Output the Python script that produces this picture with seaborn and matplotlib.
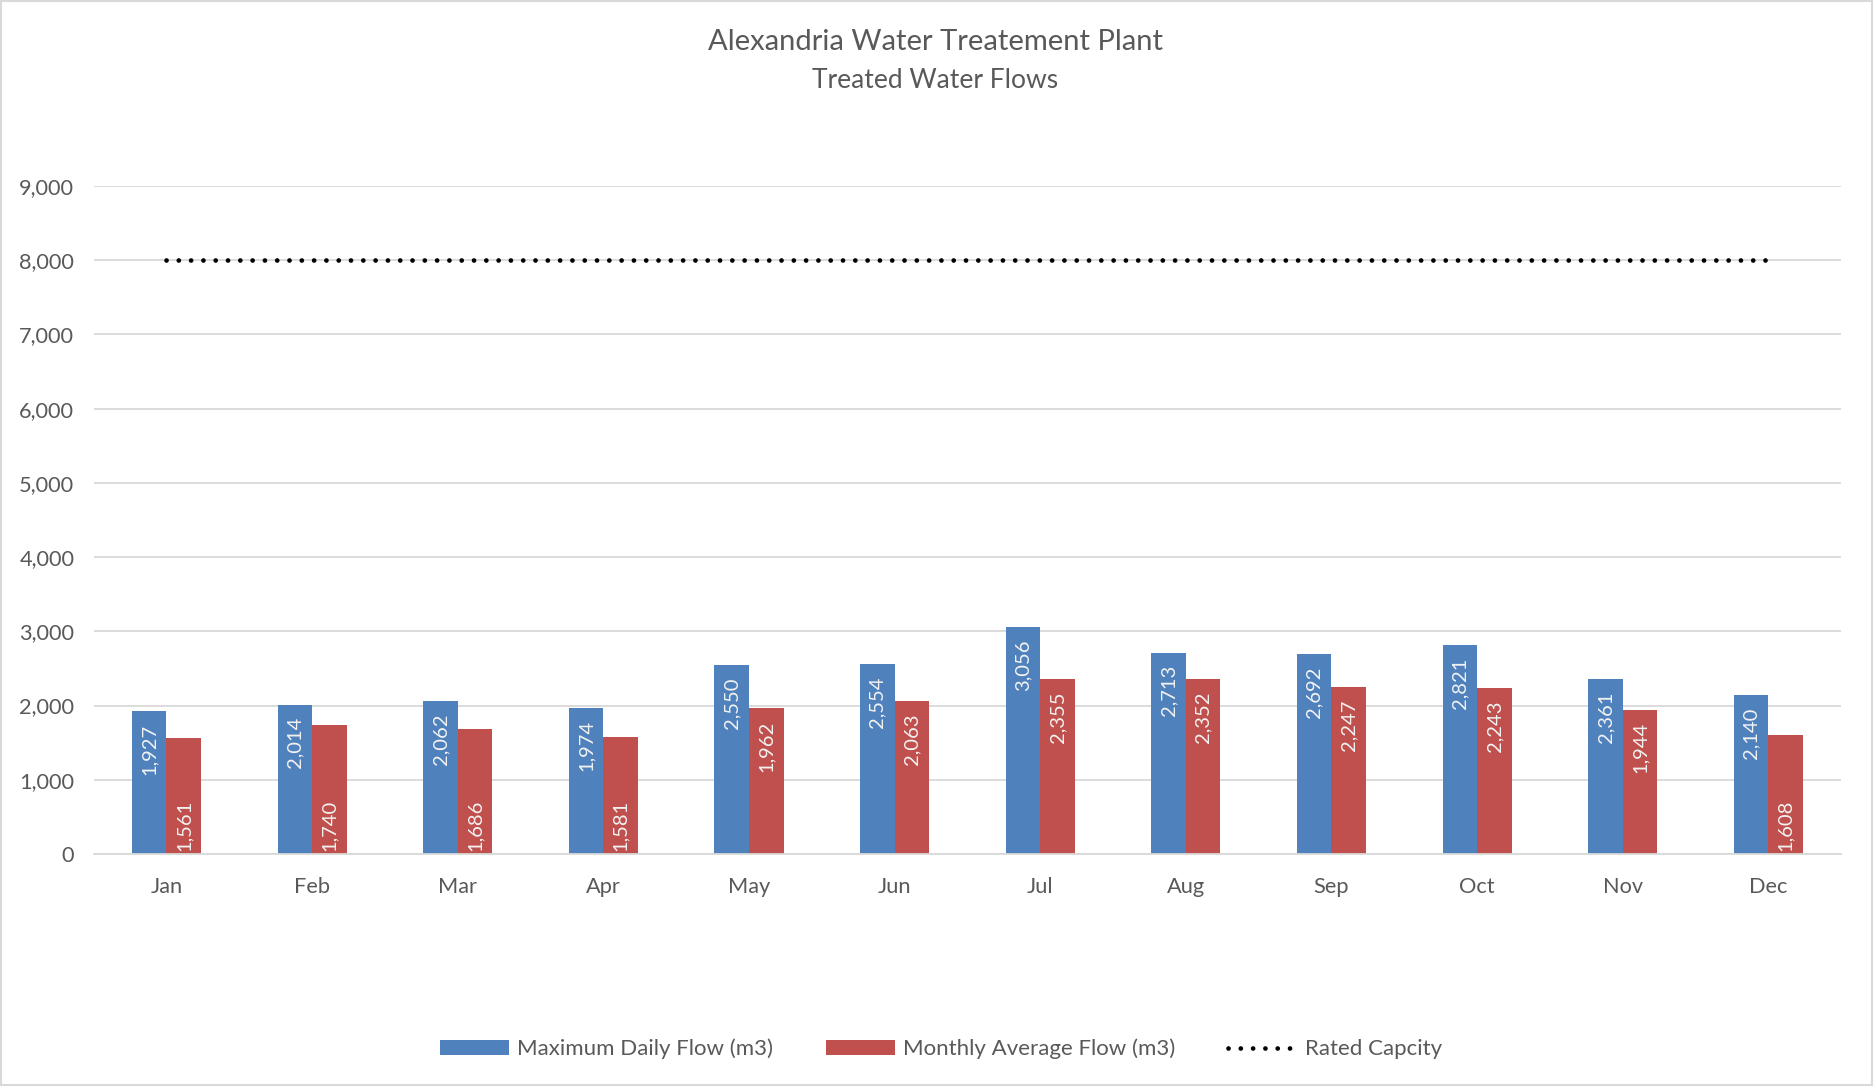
import numpy as np
import pandas as pd
import matplotlib
matplotlib.use('Agg')
import matplotlib.pyplot as plt
from matplotlib.patches import Rectangle
import seaborn as sns

# data
months = ['Jan', 'Feb', 'Mar', 'Apr', 'May', 'Jun',
          'Jul', 'Aug', 'Sep', 'Oct', 'Nov', 'Dec']
max_daily = [1927, 2014, 2062, 1974, 2550, 2554, 3056, 2713, 2692, 2821, 2361, 2140]
monthly_avg = [1561, 1740, 1686, 1581, 1962, 2063, 2355, 2352, 2247, 2243, 1944, 1608]
rated_capacity = [8000] * 12

series_names = ['Maximum Daily Flow (m3)', 'Monthly Average Flow (m3)']
line_name = 'Rated Capcity'
yticks = [0, 1000, 2000, 3000, 4000, 5000, 6000, 7000, 8000, 9000]

# red labels that sit at the bar base instead of the top
base_label_months = ['Jan', 'Feb', 'Mar', 'Apr', 'Dec']

df = pd.DataFrame({
    'month': months * 2,
    'flow': max_daily + monthly_avg,
    'series': [series_names[0]] * 12 + [series_names[1]] * 12,
})

sns.set_style('white')
plt.rcParams['font.family'] = ['Lato', 'DejaVu Sans']
text_col = '#595959'
grid_col = '#D9D9D9'

fig = plt.figure(figsize=(18.73, 10.86), dpi=100)
ax = fig.add_axes([0.050, 0.2136, 0.933, 0.6151])

sns.barplot(data=df, x='month', y='flow', hue='series', order=months,
            hue_order=series_names, palette=['#4F81BD', '#C0504D'],
            width=0.475, gap=0, saturation=1, ax=ax, legend=True,
            edgecolor='none')

ax.plot(np.arange(len(months)), rated_capacity, color='black', lw=3.4,
        linestyle=(0, (0.01, 2.5947)), dash_capstyle='round', label=line_name)

# data labels
for ci, cont in enumerate(ax.containers):
    for mi, bar in enumerate(cont):
        h = bar.get_height()
        x = bar.get_x() + bar.get_width() / 2
        txt = f'{int(round(h)):,}'
        if ci == 1 and months[mi] in base_label_months:
            ax.annotate(txt, (x, 0), xytext=(0, 2), textcoords='offset points',
                        rotation=90, ha='center', va='bottom', color='#F2F2F2',
                        fontsize=14.5)
        else:
            ax.annotate(txt, (x, h), xytext=(0, -9), textcoords='offset points',
                        rotation=90, ha='center', va='top', color='#F2F2F2',
                        fontsize=14.5)

ax.set_xlim(-0.5, len(months) - 0.5)
ax.set_ylim(0, 9000)
ax.set_yticks(yticks)
ax.set_yticklabels([f'{v:,}' for v in yticks])
ax.yaxis.grid(True, color=grid_col, lw=1.3)
ax.set_axisbelow(True)
for s in ['left', 'right', 'top']:
    ax.spines[s].set_visible(False)
ax.spines['bottom'].set_color(grid_col)
ax.spines['bottom'].set_linewidth(1.3)
ax.tick_params(axis='both', length=0, labelsize=15.7, colors=text_col)
ax.tick_params(axis='y', pad=14)
ax.tick_params(axis='x', pad=16.5)
ax.set_xlabel('')
ax.set_ylabel('')

handles, labels = ax.get_legend_handles_labels()
ax.get_legend().remove()
order = [labels.index(series_names[0]), labels.index(series_names[1]), labels.index(line_name)]
leg = fig.legend([handles[i] for i in order], [labels[i] for i in order],
                 loc='center', bbox_to_anchor=(0.5025, 0.034), ncol=3,
                 frameon=False, fontsize=16, handlelength=3.1, handleheight=0.63,
                 handletextpad=0.35, columnspacing=2.4)
for t in leg.get_texts():
    t.set_color(text_col)

fig.text(0.4993, 0.961, 'Alexandria Water Treatement Plant', ha='center', va='center',
         fontsize=21, color=text_col)
fig.text(0.4993, 0.926, 'Treated Water Flows', ha='center', va='center',
         fontsize=19, color=text_col)

fig.patches.append(Rectangle((0.0005, 0.0005), 0.999, 0.999, transform=fig.transFigure,
                             fill=False, edgecolor=grid_col, lw=1.5))

fig.savefig('out.png', dpi=100)
